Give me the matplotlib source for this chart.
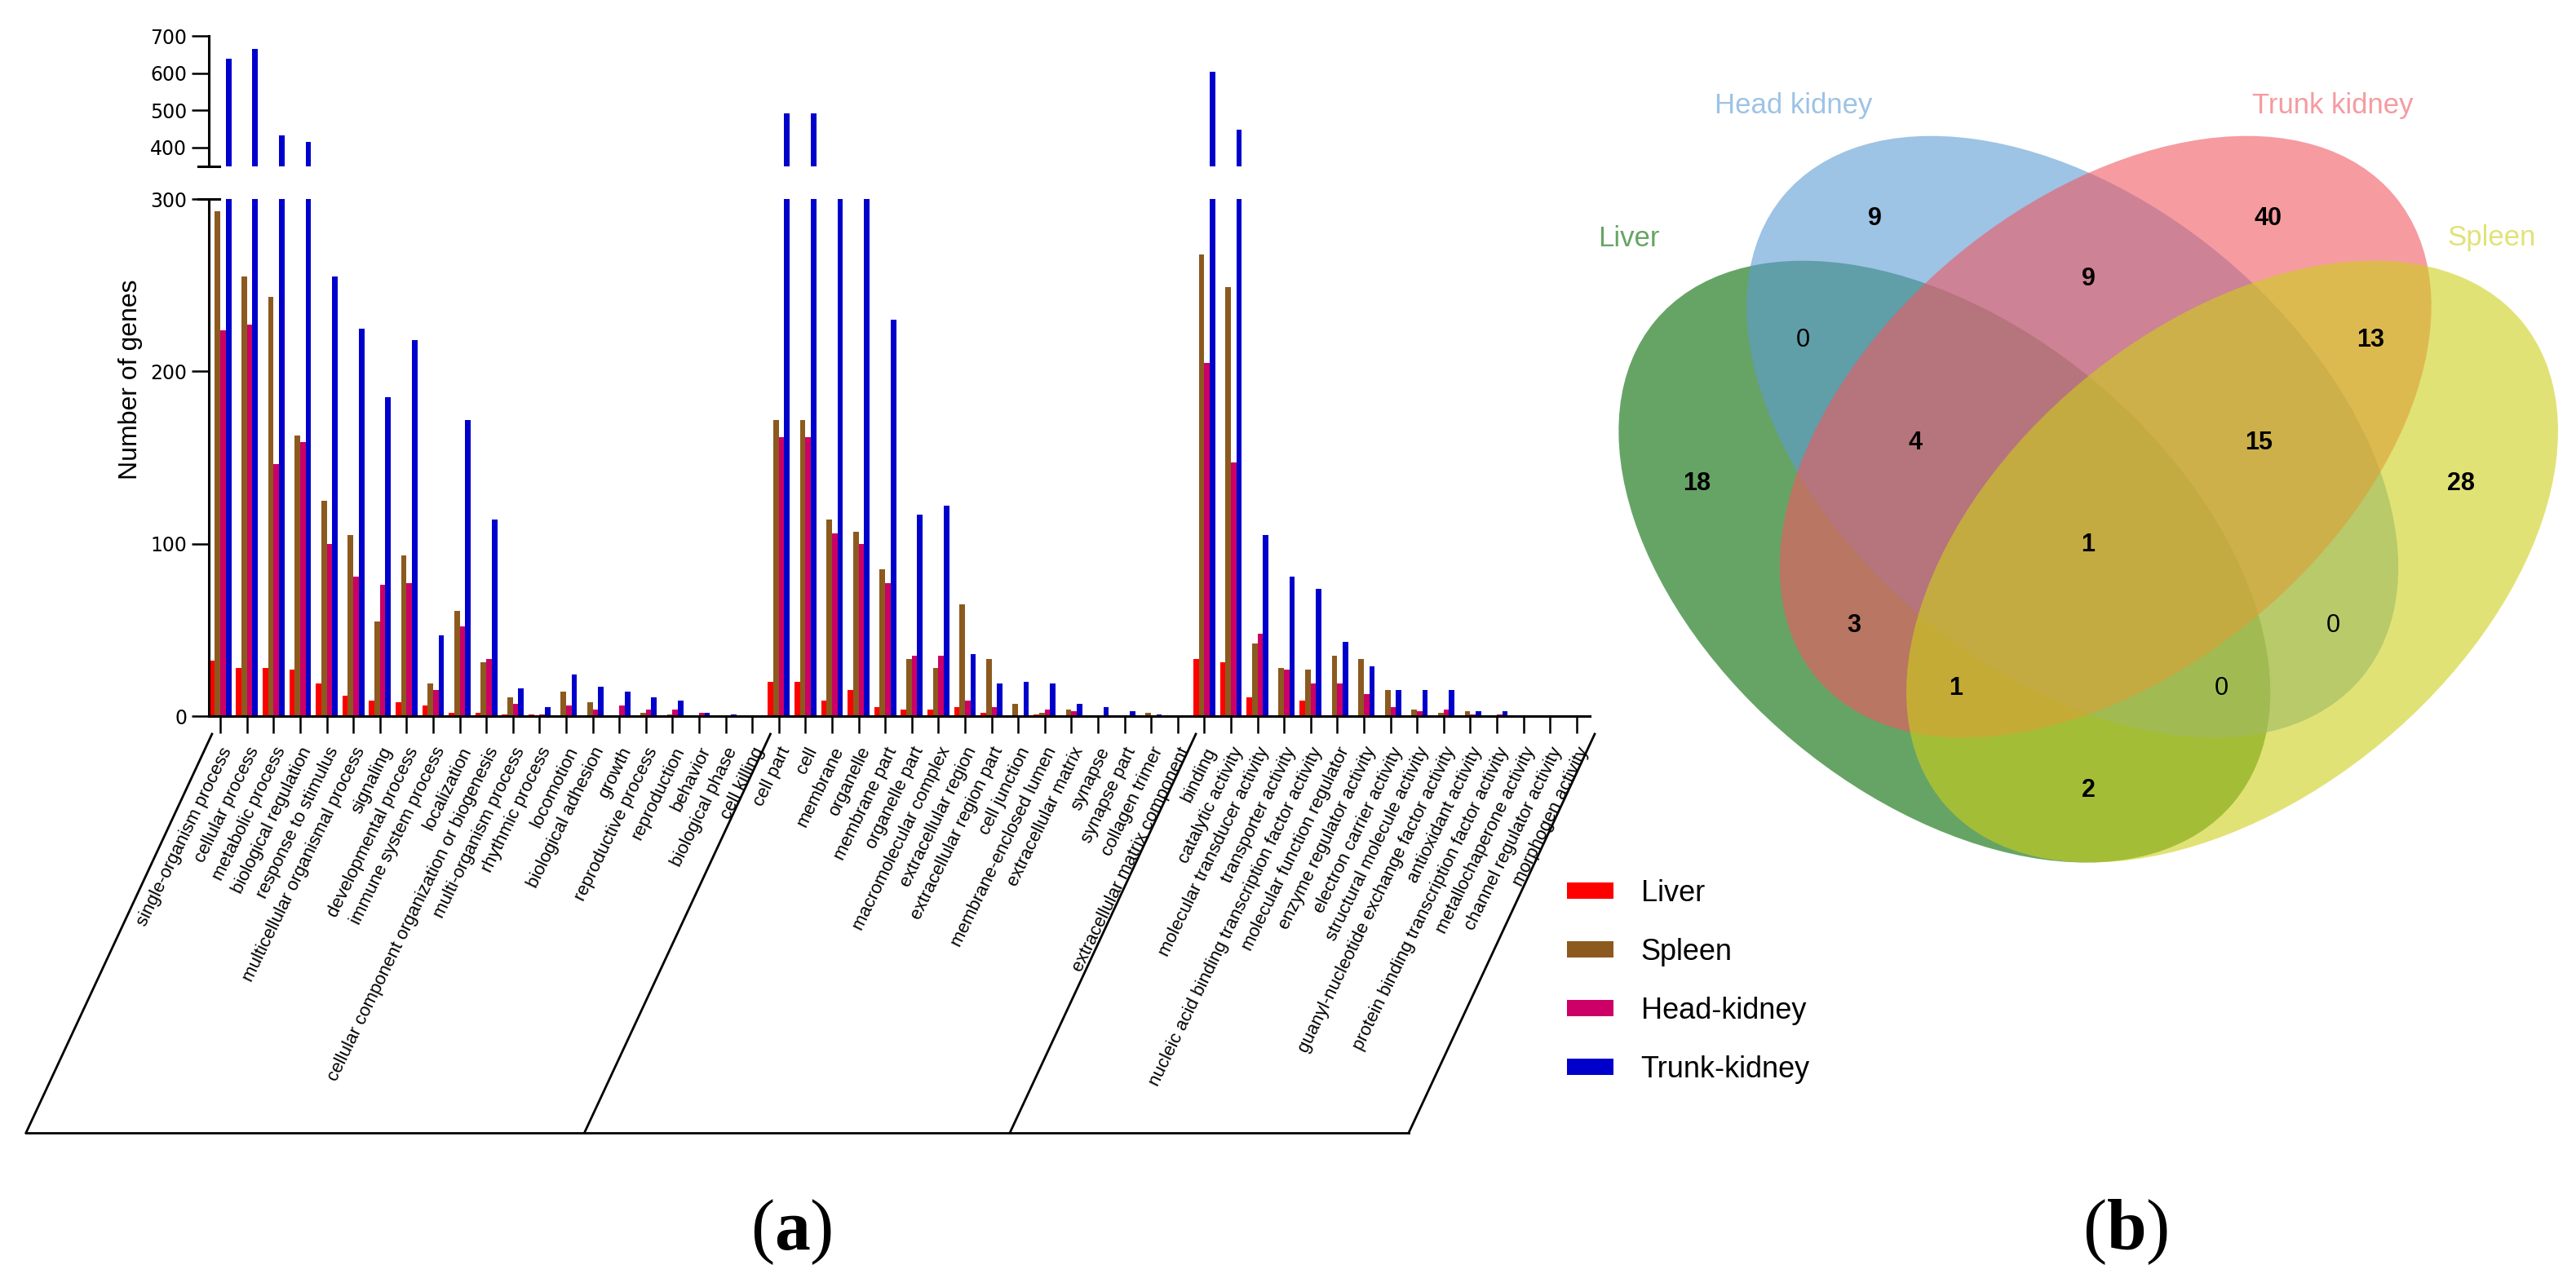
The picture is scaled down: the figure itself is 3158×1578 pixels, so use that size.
import numpy as np
import matplotlib
matplotlib.use("Agg")
import matplotlib.pyplot as plt
from matplotlib.patches import Ellipse, Rectangle
from matplotlib.lines import Line2D

W, H = 3158, 1578

# GO terms, three categories
bp_terms = ["single-organism process", "cellular process", "metabolic process",
            "biological regulation", "response to stimulus",
            "multicellular organismal process", "signaling", "developmental process",
            "immune system process", "localization",
            "cellular component organization or biogenesis", "multi-organism process",
            "rhythmic process", "locomotion", "biological adhesion", "growth",
            "reproductive process", "reproduction", "behavior", "biological phase",
            "cell killing"]
cc_terms = ["cell part", "cell", "membrane", "organelle", "membrane part",
            "organelle part", "macromolecular complex", "extracellular region",
            "extracellular region part", "cell junction", "membrane-enclosed lumen",
            "extracellular matrix", "synapse", "synapse part", "collagen trimer",
            "extracellular matrix component"]
mf_terms = ["binding", "catalytic activity", "molecular transducer activity",
            "transporter activity", "nucleic acid binding transcription factor activity",
            "molecular function regulator", "enzyme regulator activity",
            "electron carrier activity", "structural molecule activity",
            "guanyl-nucleotide exchange factor activity", "antioxidant activity",
            "protein binding transcription factor activity", "metallochaperone activity",
            "channel regulator activity", "morphogen activity"]
terms = bp_terms + cc_terms + mf_terms

liver = [32, 28, 28, 27, 19, 12, 9, 8, 6, 2, 2, 1, 1, 0, 0, 0, 0, 0, 0, 0, 0,
         20, 20, 9, 15, 5, 4, 4, 5, 2, 0, 1, 0, 0, 0, 0, 0,
         33, 31, 11, 0, 9, 0, 0, 0, 0, 0, 0, 0, 0, 0, 0]
spleen = [293, 255, 243, 163, 125, 105, 55, 93, 19, 61, 31, 11, 0, 14, 8, 0, 2, 1, 0, 0, 0,
          172, 172, 114, 107, 85, 33, 28, 65, 33, 7, 2, 4, 0, 0, 2, 0,
          268, 249, 42, 28, 27, 35, 33, 15, 4, 2, 3, 0, 0, 0, 0]
head_kidney = [224, 227, 146, 159, 100, 81, 76, 77, 15, 52, 33, 7, 1, 6, 4, 6, 4, 4, 2, 0, 0,
               162, 162, 106, 100, 77, 35, 35, 9, 5, 0, 4, 3, 0, 0, 0, 0,
               205, 147, 48, 27, 19, 19, 13, 5, 3, 4, 1, 1, 0, 0, 0]
trunk_kidney = [640, 666, 432, 416, 255, 225, 185, 218, 47, 172, 114, 16, 5, 24, 17, 14, 11, 9, 2, 1, 0,
                493, 493, 330, 320, 230, 117, 122, 36, 19, 20, 19, 7, 5, 3, 1, 0,
                604, 449, 105, 81, 74, 43, 29, 15, 15, 15, 3, 3, 0, 0, 0]

tissues = ["Liver", "Spleen", "Head-kidney", "Trunk-kidney"]
tissue_colors = ["#ff0000", "#8c5a1e", "#cc0066", "#0000cc"]

# Venn: sets and region counts
venn_sets = ["Liver", "Head kidney", "Trunk kidney", "Spleen"]
venn_regions = ["L", "H", "T", "S", "LH", "HT", "TS", "LT", "HS", "LS",
                "LHT", "HTS", "LTS", "LHS", "LHTS"]
venn_counts = [18, 9, 40, 28, 0, 9, 13, 3, 0, 2, 4, 15, 1, 0, 1]


def fx(p):
    return p / W


def fy(p):
    return 1 - p / H


plt.rcParams["font.family"] = ["Liberation Sans", "DejaVu Sans"]
plt.rcParams["mathtext.fontset"] = "custom"
plt.rcParams["mathtext.rm"] = "Liberation Serif"
plt.rcParams["mathtext.bf"] = "Liberation Serif:bold"

fig = plt.figure(figsize=(W / 100, H / 100), dpi=100)

ax_left, ax_right = 255.5, 1949
ax = fig.add_axes([fx(ax_left), fy(878), (ax_right - ax_left) / W, (878 - 244) / H])
ax_top = fig.add_axes([fx(ax_left), fy(203.8), (ax_right - ax_left) / W, (203.8 - 44.2) / H])

x = np.arange(len(terms))
w = 0.205
series = [liver, spleen, head_kidney, trunk_kidney]
for a in (ax, ax_top):
    for i, (vals, c) in enumerate(zip(series, tissue_colors)):
        a.bar(x + (i - 1.5) * w, vals, w, color=c, linewidth=0)
    a.set_xlim(-0.45, len(terms) - 0.5)
    for s in ("top", "right"):
        a.spines[s].set_visible(False)
    a.spines["left"].set_linewidth(2.2)
    a.tick_params(axis="y", length=15, width=1.8, pad=4, labelsize=17,
                  labelfontfamily="DejaVu Sans")

ax.set_ylim(0, 300)
ax.set_yticks([0, 100, 200, 300])
ax_top.set_ylim(350, 700)
ax_top.set_yticks([400, 500, 600, 700])
ax_top.spines["bottom"].set_visible(False)
ax_top.tick_params(axis="x", bottom=False, labelbottom=False)

ax.spines["bottom"].set_linewidth(2.2)
ax.set_xticks(x)
ax.set_xticklabels(terms, rotation=64, ha="right", va="top",
                   rotation_mode="anchor", fontsize=16)
ax.tick_params(axis="x", length=15, width=1.8, pad=10)

# axis break marks
for yb in (203.8, 244):
    fig.add_artist(Line2D([fx(243), fx(269)], [fy(yb), fy(yb)], color="black", lw=2.2))

fig.text(fx(160), fy(465), "Number of genes", rotation=90, ha="center",
         va="center", fontsize=23)

# category brackets under the labels
y_top, y_bot = 900, 1389
run = (y_bot - y_top) / np.tan(np.radians(65))
bounds = [-0.5, len(bp_terms) - 0.5, len(bp_terms) + len(cc_terms) - 0.5, len(terms) - 0.5]
bottoms = []
for b in bounds:
    xt = ax.transData.transform((b, 0))[0] + 6
    xb = xt - run
    bottoms.append(xb)
    fig.add_artist(Line2D([fx(xt), fx(xb)], [fy(y_top), fy(y_bot)], color="black", lw=2))
fig.add_artist(Line2D([fx(bottoms[0]), fx(bottoms[-1])], [fy(y_bot), fy(y_bot)],
                      color="black", lw=2))

# legend
for i, (name, c) in enumerate(zip(tissues, tissue_colors)):
    yc = 1091.7 + i * 72.2
    fig.add_artist(Rectangle((fx(1920.7), fy(yc + 10)), 57 / W, 20 / H,
                             transform=fig.transFigure, color=c, lw=0))
    fig.text(fx(2011.7), fy(yc + 13), name, va="baseline", ha="left", fontsize=26)

fig.text(fx(970), fy(1511), r"($\mathbf{a}$)", ha="center", va="center",
         fontsize=63, family="Liberation Serif")
fig.text(fx(2606), fy(1511), r"($\mathbf{b}$)", ha="center", va="center",
         fontsize=63, family="Liberation Serif")

# Venn diagram (b), drawn in pixel units
vax = fig.add_axes([fx(1950), fy(1250), (W - 1950) / W, 1250 / H])
vax.set_xlim(1950, W)
vax.set_ylim(1250, 0)
vax.axis("off")

venn_fill = ["#006800", "#5c9bd5", "#f05861", "#cdcf19"]
venn_text = ["#67a464", "#9dc3e6", "#f59ba0", "#e1e277"]
ell_centers = [(2383.8, 688.6), (2540.7, 535.6), (2581.2, 535.6), (2736.5, 688.6)]
ell_angles = [39.8, 39.8, -39.8, -39.8]
for (cx, cy), ang, c in zip(ell_centers, ell_angles, venn_fill):
    vax.add_patch(Ellipse((cx, cy), 922.8, 575.4, angle=ang, facecolor=c,
                          alpha=0.6, lw=0))

label_pos = [(1997, 292), (2199, 130), (2860, 130), (3055, 292)]
for name, (lx, ly), c in zip(venn_sets, label_pos, venn_text):
    vax.text(lx, ly, name, color=c, ha="center", va="center", fontsize=25)

region_pos = {"L": (2080, 593), "H": (2298, 268), "T": (2780, 268), "S": (3017, 593),
              "LH": (2210, 417), "HT": (2560, 342), "TS": (2906, 417),
              "LT": (2273, 767), "HS": (2860, 767), "LS": (2560, 969),
              "LHT": (2348, 543), "HTS": (2769, 543), "LTS": (2398, 844),
              "LHS": (2723, 844), "LHTS": (2560, 668)}
for reg, n in zip(venn_regions, venn_counts):
    px, py = region_pos[reg]
    vax.text(px, py, str(n), ha="center", va="center", fontsize=22,
             fontweight="bold" if n else "normal", color="black")

fig.savefig("out.png", dpi=100)
